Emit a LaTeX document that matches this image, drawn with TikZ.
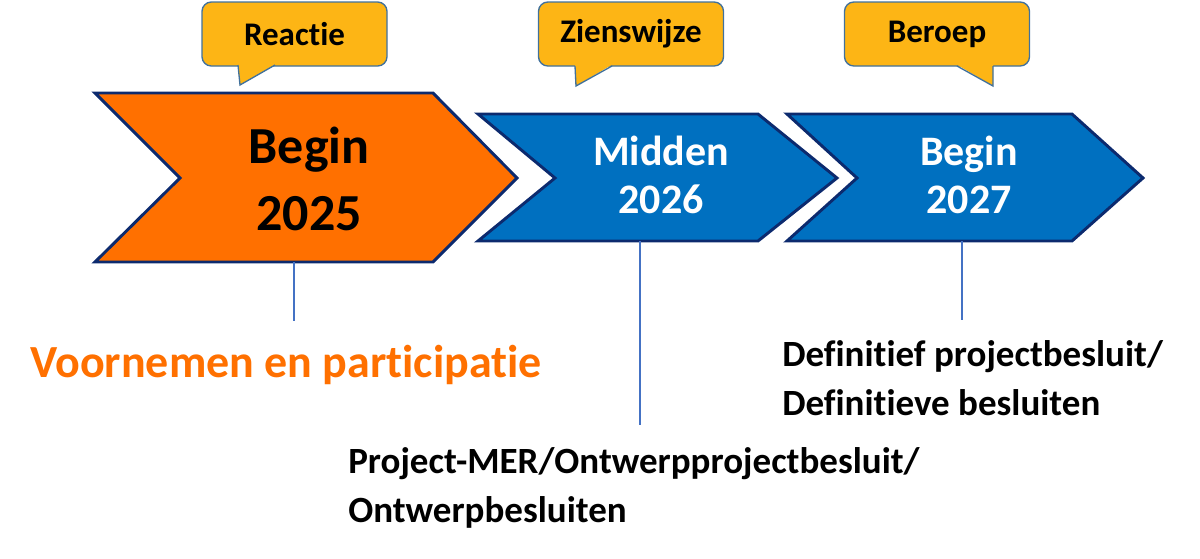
\documentclass[tikz,border=0pt]{standalone}
\usepackage{fontspec}
\setmainfont{Carlito}[Ligatures=NoCommon]
\usepackage{xcolor}
\definecolor{oranje}{HTML}{FF7000}
\definecolor{blauw}{HTML}{0070C0}
\definecolor{donker}{HTML}{0C2A6E}
\definecolor{geel}{HTML}{FDB515}
\definecolor{rand}{HTML}{41719C}
\definecolor{lijn}{HTML}{4472C4}
\tikzset{
  chevron/.style={draw=donker, line width=2.2pt, line join=miter},
  bubble/.style={draw=rand, line width=1pt, fill=geel, rounded corners=7pt,
    minimum width=138.75pt, minimum height=48pt, inner sep=0pt,
    font=\fontsize{24.75}{30}\selectfont\bfseries},
  stem/.style={draw=lijn, line width=0.8pt},
  jaar/.style={align=center, inner sep=0pt, font=\bfseries},
  uitleg/.style={align=left, inner sep=0pt, anchor=base west,
    font=\fontsize{27.75}{36.75}\selectfont\bfseries},
}

\begin{document}
\begin{tikzpicture}[x=0.75pt, y=-0.75pt]
		\useasboundingbox (0,0) rectangle (1200,558);

		\draw[chevron, fill=oranje] (95,93) -- (433,93) -- (517,178) -- (433,262) -- (95,262) -- (180,178) -- cycle;
		\draw[chevron, fill=blauw] (478,114) -- (758,114) -- (837,178) -- (758,241) -- (478,241) -- (555,178) -- cycle;
		\draw[chevron, fill=blauw] (787,114) -- (1072,114) -- (1143,178) -- (1072,241) -- (787,241) -- (857,178) -- cycle;

		\node[jaar, anchor=base, font=\fontsize{39}{50.25}\selectfont\bfseries] (fase1) at (309,230) {Begin\\2025};
		\node[jaar, anchor=base, white, font=\fontsize{31.5}{36}\selectfont\bfseries] (fase2) at (661,213) {Midden\\2026};
		\node[jaar, anchor=base, white, font=\fontsize{31.5}{36}\selectfont\bfseries] (fase3) at (969,213) {Begin\\2027};

		\node[bubble] (reactie) at (294.5,34) {Reactie};
		\fill[geel] (238,63.5) -- (240,85) -- (277,63.5) -- cycle;
		\draw[rand, line width=1pt] (238,65) -- (240,85) -- (275,65);

		\node[bubble] (zienswijze) at (631,34) {Zienswijze};
		\fill[geel] (575,63.5) -- (576,86) -- (614,63.5) -- cycle;
		\draw[rand, line width=1pt] (575,66) -- (576,86) -- (612,66);

		\node[bubble] (beroep) at (937,34) {Beroep};
		\fill[geel] (955,63.5) -- (993,86) -- (993,63.5) -- cycle;
		\draw[rand, line width=1pt] (957,66) -- (993,86) -- (993,66);

		\coordinate (f1) at (294,262);
		\coordinate (f2) at (640,241);
		\coordinate (f3) at (962,241);
		\coordinate (e1) at (294,321);
		\coordinate (e2) at (640,425);
		\coordinate (e3) at (962,320);
		\draw[stem] (f1) -- (e1);
		\draw[stem] (f2) -- (e2);
		\draw[stem] (f3) -- (e3);

		\node[uitleg, oranje, font=\fontsize{34.5}{40}\selectfont\bfseries] (voornemen) at (30,377) {Voornemen en participatie};
		\node[uitleg] (ontwerp) at (348,522) {Project-MER/Ontwerpprojectbesluit/\\Ontwerpbesluiten};
		\node[uitleg] (definitief) at (782,415) {Definitief projectbesluit/\\Definitieve besluiten};
	\end{tikzpicture}
\end{document}
